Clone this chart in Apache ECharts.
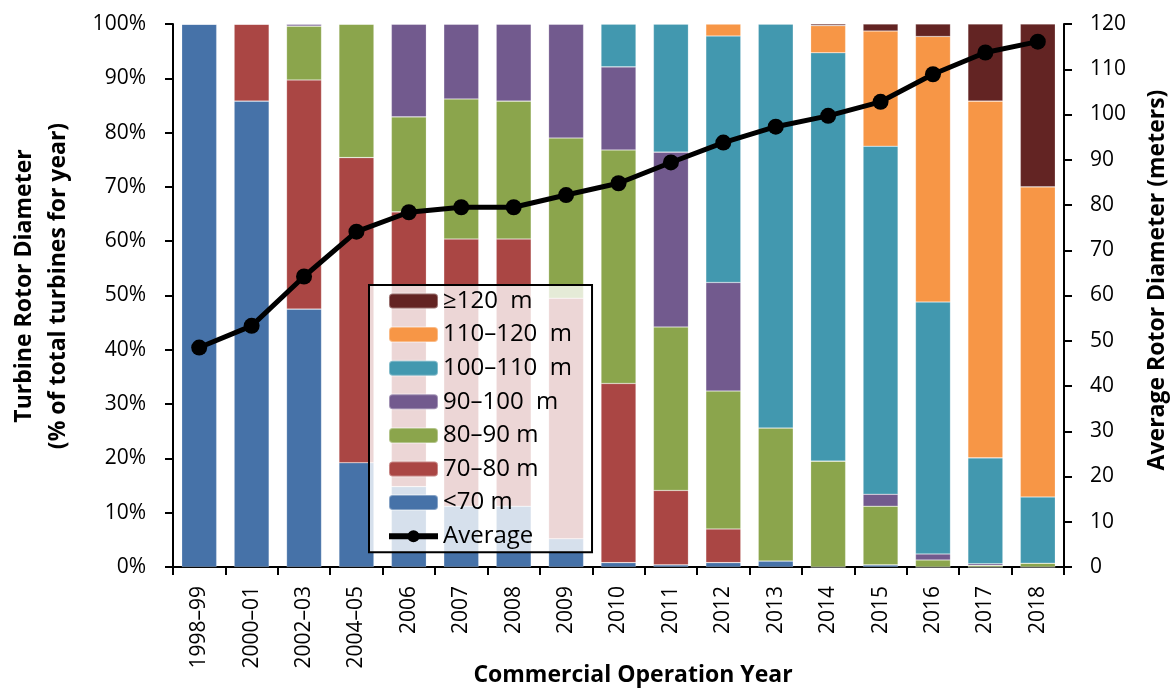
<!DOCTYPE html>
<html>
<head>
<meta charset="utf-8">
<script src="https://cdn.jsdelivr.net/npm/echarts@6/dist/echarts.min.js"></script>
<style>
  html, body { margin: 0; padding: 0; background: #fff; }
  #chart { width: 1173px; height: 690px; }
</style>
</head>
<body>
<div id="chart"></div>
<script>
// Años de operación comercial
const years = ['1998–99', '2000–01', '2002–03', '2004–05', '2006', '2007', '2008', '2009',
  '2010', '2011', '2012', '2013', '2014', '2015', '2016', '2017', '2018'];

// Porcentaje de turbinas por rango de diámetro del rotor
const under70 = [100, 85.8, 47.5, 19.2, 14.8, 11.2, 11.2, 5.2, 0.8, 0.4, 0.8, 1.1, 0, 0.4, 0, 0, 0];
const r70to80 = [0, 14.2, 42.2, 56.2, 50.6, 49.2, 49.2, 44.3, 33.0, 13.7, 6.2, 0, 0, 0, 0, 0, 0];
const r80to90 = [0, 0, 9.9, 24.6, 17.5, 25.8, 25.4, 29.5, 43.0, 30.1, 25.4, 24.5, 19.5, 10.8, 1.3, 0.3, 0.7];
const r90to100 = [0, 0, 0.4, 0, 17.1, 13.8, 14.2, 21.0, 15.3, 32.2, 20.0, 0, 0, 2.2, 1.1, 0.3, 0];
const r100to110 = [0, 0, 0, 0, 0, 0, 0, 0, 7.9, 23.6, 45.4, 74.4, 75.2, 64.1, 46.4, 19.5, 12.2];
const r110to120 = [0, 0, 0, 0, 0, 0, 0, 0, 0, 0, 2.2, 0, 5.0, 21.2, 48.9, 65.7, 57.1];
const over120 = [0, 0, 0, 0, 0, 0, 0, 0, 0, 0, 0, 0, 0.3, 1.3, 2.3, 14.2, 30.0];

// Diámetro promedio (metros)
const average = [48.5, 53.3, 64.2, 74.1, 78.4, 79.5, 79.5, 82.2, 84.8, 89.4, 93.8, 97.3, 99.7, 102.8, 108.9, 113.7, 116.1];

const leftTicks = [0, 100, 10];
const rightTicks = [0, 120, 10];

const font = '"Open Sans", sans-serif';

const bands = [
  { name: '<70 m', data: under70, color: '#4672A8' },
  { name: '70–80 m', data: r70to80, color: '#AA4644' },
  { name: '80–90 m', data: r80to90, color: '#8BA54C' },
  { name: '90–100  m', data: r90to100, color: '#725A8E' },
  { name: '100–110  m', data: r100to110, color: '#4298AF' },
  { name: '110–120  m', data: r110to120, color: '#F79646' },
  { name: '≥120  m', data: over120, color: '#632423' }
];

const chart = echarts.init(document.getElementById('chart'));

const axisLine = { show: true, lineStyle: { color: '#000', width: 2 } };
const axisTick = { show: true, length: 8, lineStyle: { color: '#000', width: 2 } };

chart.setOption({
  animation: false,
  grid: { left: 173, right: 109, top: 24, bottom: 123 },
  legend: {
    orient: 'vertical',
    left: 369,
    top: 285,
    padding: [4, 20, 4, 17],
    itemWidth: 49,
    itemHeight: 15,
    itemGap: 9.6,
    backgroundColor: 'rgba(255,255,255,0.78)',
    borderColor: '#000',
    borderWidth: 2,
    borderRadius: 0,
    data: ['≥120  m', '110–120  m', '100–110  m', '90–100  m', '80–90 m', '70–80 m', '<70 m',
      { name: 'Average', lineStyle: { width: 6, color: '#000' }, itemStyle: { color: '#000' } }],
    textStyle: { fontFamily: font, fontSize: 24, lineHeight: 24, color: '#000' }
  },
  xAxis: {
    type: 'category',
    data: years,
    axisLine: axisLine,
    axisTick: { show: true, length: 8, lineStyle: { color: '#000', width: 2 } },
    axisLabel: { rotate: 90, margin: 19, fontFamily: font, fontSize: 21, color: '#000', interval: 0 }
  },
  yAxis: [
    {
      type: 'value',
      min: leftTicks[0], max: leftTicks[1], interval: leftTicks[2],
      axisLine: axisLine,
      axisTick: axisTick,
      splitLine: { show: false },
      axisLabel: { formatter: '{value}%', margin: 27, fontFamily: font, fontSize: 21, color: '#000' }
    },
    {
      type: 'value',
      min: rightTicks[0], max: rightTicks[1], interval: rightTicks[2],
      axisLine: axisLine,
      axisTick: axisTick,
      splitLine: { show: false },
      axisLabel: { margin: 26, fontFamily: font, fontSize: 21, color: '#000' }
    }
  ],
  series: bands.map(b => ({
    name: b.name,
    type: 'bar',
    stack: 'share',
    barWidth: 35,
    data: b.data,
    itemStyle: { color: b.color, borderColor: 'rgba(255,255,255,0.35)', borderWidth: 0.6 }
  })).concat([{
    name: 'Average',
    type: 'line',
    yAxisIndex: 1,
    data: average,
    symbol: 'circle',
    symbolSize: 16,
    z: 5,
    lineStyle: { color: '#000', width: 5 },
    itemStyle: { color: '#000' }
  }]),
  graphic: [
    {
      type: 'text', x: 24, y: 286, rotation: Math.PI / 2,
      style: { text: 'Turbine Rotor Diameter', font: 'bold 23px ' + font, fill: '#000', align: 'center', verticalAlign: 'middle' }
    },
    {
      type: 'text', x: 58, y: 286, rotation: Math.PI / 2,
      style: { text: '(% of total turbines for year)', font: 'bold 23px ' + font, fill: '#000', align: 'center', verticalAlign: 'middle' }
    },
    {
      type: 'text', x: 1157, y: 280, rotation: Math.PI / 2,
      style: { text: 'Average Rotor Diameter (meters)', font: 'bold 23px ' + font, fill: '#000', align: 'center', verticalAlign: 'middle' }
    },
    {
      type: 'text', x: 633, y: 675,
      style: { text: 'Commercial Operation Year', font: 'bold 23px ' + font, fill: '#000', align: 'center', verticalAlign: 'middle' }
    }
  ]
});
</script>
</body>
</html>
